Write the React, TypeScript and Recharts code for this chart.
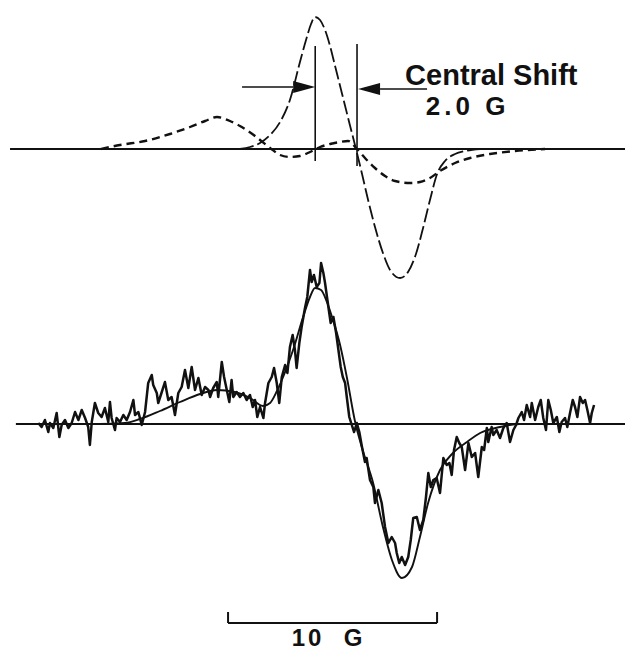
import { LineChart, Line, XAxis, YAxis, ReferenceLine, ReferenceDot } from "recharts";

type Pt = [number, number];

// field offset in G (0 = zero crossing of the centred signal), signal in arbitrary units

// top: simulated component with the shifted centre (short dashes)
const shiftedComponent: Pt[] = [
  [-12.25, 0], [-11.34, 4], [-10.14, 8], [-8.95, 15], [-7.99, 22], [-7.27, 28],
  [-6.7, 32], [-6.08, 28], [-5.6, 23], [-4.88, 13], [-4.16, 1], [-3.68, -6],
  [-3.21, -8], [-2.73, -7], [-2.25, -3], [-1.77, 2], [-1.29, 5], [-0.81, 7],
  [-0.43, 8], [0.0, 0], [0.38, -9], [0.86, -19], [1.34, -27], [1.82, -32],
  [2.54, -34], [3.01, -33], [3.49, -29], [3.97, -22], [4.69, -14], [5.41, -9],
  [6.36, -5], [7.56, -2], [9.0, 0],
];

// top: main component (long dashes)
const mainComponent: Pt[] = [
  [-5.6, 0], [-5.12, 2], [-4.64, 6], [-4.16, 14], [-3.68, 27], [-3.21, 49],
  [-2.73, 87], [-2.44, 109], [-2.2, 125], [-2.01, 132], [-1.77, 129], [-1.53, 119],
  [-1.29, 103], [-1.05, 83], [-0.81, 63], [-0.57, 43], [-0.33, 23], [-0.05, 0],
  [0.24, -25], [0.53, -51], [0.86, -78], [1.24, -104], [1.58, -121], [2.06, -129],
  [2.44, -123], [2.82, -105], [3.16, -79], [3.49, -51], [3.83, -25], [4.21, -12],
  [4.69, -5], [5.17, -2], [5.89, 0],
];

// bottom: recorded spectrum
const measured: Pt[] = [
  [-15.25, 1], [-15.09, -3], [-14.93, 4], [-14.77, -8], [-14.69, 1], [-14.53, -4],
  [-14.37, 11], [-14.24, -13], [-14.13, -1], [-13.97, 4], [-13.81, -4], [-13.65, 1],
  [-13.49, 12], [-13.33, 4], [-13.17, 14], [-13.01, 6], [-12.86, -3], [-12.78, -21],
  [-12.69, 2], [-12.54, 21], [-12.38, 11], [-12.22, 7], [-12.06, 16], [-11.9, 2],
  [-11.82, 22], [-11.74, 6], [-11.58, -6], [-11.5, 6], [-11.34, 2], [-11.18, 9],
  [-11.02, 4], [-10.86, 12], [-10.7, 24], [-10.62, 9], [-10.46, 12], [-10.3, -1],
  [-10.14, 12], [-9.99, 41], [-9.82, 49], [-9.75, 39], [-9.58, 31], [-9.51, 21],
  [-9.34, 32], [-9.19, 42], [-9.03, 24], [-8.87, 27], [-8.71, 9], [-8.55, 31],
  [-8.39, 37], [-8.23, 54], [-8.07, 36], [-7.91, 57], [-7.75, 34], [-7.59, 46],
  [-7.43, 29], [-7.27, 37], [-7.11, 34], [-7.03, 27], [-6.88, 36], [-6.71, 42],
  [-6.64, 27], [-6.47, 62], [-6.36, 47], [-6.23, 34], [-6.11, 22], [-6.0, 44],
  [-5.92, 27], [-5.76, 32], [-5.6, 27], [-5.44, 31], [-5.28, 24], [-5.12, 29],
  [-4.99, 17], [-4.88, 24], [-4.77, 7], [-4.64, 17], [-4.48, 6], [-4.4, 21],
  [-4.24, 41], [-4.08, 47], [-3.97, 56], [-3.84, 41], [-3.72, 21], [-3.6, 47],
  [-3.44, 59], [-3.33, 51], [-3.21, 77], [-3.08, 89], [-2.97, 74], [-2.89, 56],
  [-2.76, 81], [-2.65, 97], [-2.49, 116], [-2.38, 127], [-2.25, 154], [-2.17, 142],
  [-2.06, 149], [-1.93, 137], [-1.8, 141], [-1.72, 161], [-1.61, 151], [-1.53, 141],
  [-1.37, 117], [-1.26, 101], [-1.13, 107], [-1.0, 91], [-0.89, 74], [-0.78, 57],
  [-0.68, 47], [-0.57, 41], [-0.49, 27], [-0.37, 7], [-0.25, -1], [-0.14, -8],
  [-0.01, 1], [0.11, -8], [0.22, -21], [0.38, -38], [0.46, -34], [0.62, -56],
  [0.78, -63], [0.86, -79], [1.02, -66], [1.18, -79], [1.34, -103], [1.5, -119],
  [1.66, -113], [1.82, -119], [1.9, -129], [2.02, -139], [2.14, -133], [2.3, -141],
  [2.45, -133], [2.57, -116], [2.69, -94], [2.86, -93], [3.01, -106], [3.17, -96],
  [3.3, -73], [3.41, -49], [3.53, -63], [3.65, -56], [3.81, -54], [3.97, -69],
  [4.13, -34], [4.29, -41], [4.42, -39], [4.53, -51], [4.64, -26], [4.77, -13],
  [4.89, -19], [5.01, -23], [5.17, -46], [5.33, -19], [5.49, -33], [5.65, -29],
  [5.8, -53], [5.97, -23], [6.08, -26], [6.21, -4], [6.28, -18], [6.44, -3],
  [6.52, -11], [6.68, -6], [6.84, -14], [7.0, -4], [7.16, 1], [7.32, -18],
  [7.48, -6], [7.61, -1], [7.72, 6], [7.88, 12], [7.99, 4], [8.12, 19],
  [8.28, 7], [8.36, 21], [8.52, 4], [8.67, 17], [8.79, 24], [8.91, 6],
  [9.04, -6], [9.15, 24], [9.27, 14], [9.39, 1], [9.56, 7], [9.68, -8],
  [9.79, 2], [9.95, 6], [10.06, -3], [10.19, 11], [10.32, 24], [10.43, 17],
  [10.54, 7], [10.67, 27], [10.8, 21], [10.91, 24], [11.02, 14], [11.15, 1],
  [11.23, 11], [11.34, 19],
];

// bottom: fitted sum of the two components
const fitted: Pt[] = [
  [-15.17, 0], [-12.3, 0], [-11.1, 1], [-10.38, 5], [-9.43, 13], [-8.47, 22],
  [-7.51, 30], [-6.7, 34], [-5.84, 32], [-5.12, 26], [-4.5, 18], [-4.16, 21],
  [-3.83, 33], [-3.44, 52], [-3.06, 74], [-2.58, 107], [-2.25, 127], [-2.01, 136],
  [-1.72, 134], [-1.44, 122], [-1.15, 104], [-0.81, 79], [-0.48, 46], [-0.1, 3],
  [0.24, -24], [0.77, -59], [1.24, -103], [1.67, -136], [2.15, -154], [2.63, -143],
  [3.01, -113], [3.4, -79], [3.97, -46], [4.59, -29], [5.26, -18], [5.89, -9],
  [6.84, -3], [7.8, 0], [11.63, 0],
];

const FIELD_DOMAIN: [number, number] = [-17.08, 12.82];
const TOP_DOMAIN: [number, number] = [-504, 149];
const BOTTOM_DOMAIN: [number, number] = [-229, 424];

const SHIFT_LINES = [
  { x: -2.0, from: 103, to: -12 },
  { x: 0.0, from: 105, to: -17 },
];
const SCALE_START = -6.17;
const SCALE_LENGTH = 10;

const INK = "#111";
const FONT = "'Liberation Sans', Arial, sans-serif";

const rows = (pts: Pt[]) => pts.map(([x, y]) => ({ x, y }));

function Arrow(props: any) {
  const { x1, y1, x2, y2 } = props;
  const dir = x2 > x1 ? 1 : -1;
  const len = 22;
  const half = 6;
  const bx = x2 - dir * len;
  return (
    <g>
      <line x1={x1} y1={y1} x2={bx} y2={y2} stroke={INK} strokeWidth={1.6} />
      <polygon points={`${x2},${y2} ${bx},${y2 - half} ${bx},${y2 + half}`} fill={INK} />
    </g>
  );
}

const textShape =
  (text: string, anchor: "start" | "middle", size: number, spacing: number) =>
  (p: any) => (
    <text
      x={p.cx}
      y={p.cy}
      textAnchor={anchor}
      fontSize={size}
      fontFamily={FONT}
      fontWeight={700}
      letterSpacing={spacing}
      fill={INK}
      style={{ whiteSpace: "pre" }}
    >
      {text}
    </text>
  );

export default function App() {
  return (
    <div style={{ position: "absolute", left: 0, top: 0, width: 625, height: 653, background: "#fff" }}>
      <LineChart width={625} height={653} margin={{ top: 0, right: 0, bottom: 0, left: 0 }}>
        <XAxis dataKey="x" type="number" domain={FIELD_DOMAIN} allowDataOverflow hide />
        <YAxis yAxisId="top" type="number" domain={TOP_DOMAIN} allowDataOverflow hide />
        <YAxis yAxisId="bottom" type="number" domain={BOTTOM_DOMAIN} allowDataOverflow hide />

        {/* baselines */}
        <ReferenceLine
          yAxisId="top"
          segment={[{ x: -16.6, y: 0 }, { x: FIELD_DOMAIN[1], y: 0 }]}
          stroke={INK}
          strokeWidth={2}
          ifOverflow="visible"
        />
        <ReferenceLine
          yAxisId="bottom"
          segment={[{ x: -16.32, y: 0 }, { x: FIELD_DOMAIN[1], y: 0 }]}
          stroke={INK}
          strokeWidth={2}
          ifOverflow="visible"
        />

        {/* central shift markers */}
        {SHIFT_LINES.map((l) => (
          <ReferenceLine
            key={l.x}
            yAxisId="top"
            segment={[{ x: l.x, y: l.from }, { x: l.x, y: l.to }]}
            stroke={INK}
            strokeWidth={1.6}
            ifOverflow="visible"
          />
        ))}
        <ReferenceLine
          yAxisId="top"
          segment={[{ x: -5.5, y: 62 }, { x: SHIFT_LINES[0].x, y: 62 }]}
          shape={Arrow}
          ifOverflow="visible"
        />
        <ReferenceLine
          yAxisId="top"
          segment={[{ x: 3.35, y: 60 }, { x: SHIFT_LINES[1].x + 0.05, y: 60 }]}
          shape={Arrow}
          ifOverflow="visible"
        />
        <ReferenceDot yAxisId="top" x={2.3} y={64} r={0} ifOverflow="visible" shape={textShape("Central Shift", "start", 29, 0)} />
        <ReferenceDot yAxisId="top" x={5.29} y={34} r={0} ifOverflow="visible" shape={textShape("2.0 G", "middle", 26, 4)} />

        <Line
          yAxisId="top"
          data={rows(mainComponent)}
          dataKey="y"
          type="monotone"
          stroke={INK}
          strokeWidth={1.8}
          strokeDasharray="14 4"
          dot={false}
          activeDot={false}
          isAnimationActive={false}
        />
        <Line
          yAxisId="top"
          data={rows(shiftedComponent)}
          dataKey="y"
          type="monotone"
          stroke={INK}
          strokeWidth={2.4}
          strokeDasharray="8 5"
          dot={false}
          activeDot={false}
          isAnimationActive={false}
        />

        <Line
          yAxisId="bottom"
          data={rows(measured)}
          dataKey="y"
          type="linear"
          stroke={INK}
          strokeWidth={2.5}
          strokeLinejoin="round"
          dot={false}
          activeDot={false}
          isAnimationActive={false}
        />
        <Line
          yAxisId="bottom"
          data={rows(fitted)}
          dataKey="y"
          type="monotone"
          stroke={INK}
          strokeWidth={1.9}
          dot={false}
          activeDot={false}
          isAnimationActive={false}
        />

        {/* 10 G scale bar */}
        <ReferenceLine
          yAxisId="bottom"
          segment={[{ x: SCALE_START, y: -199 }, { x: SCALE_START + SCALE_LENGTH, y: -199 }]}
          stroke={INK}
          strokeWidth={2}
          ifOverflow="visible"
        />
        <ReferenceLine
          yAxisId="bottom"
          segment={[{ x: SCALE_START, y: -199 }, { x: SCALE_START, y: -188 }]}
          stroke={INK}
          strokeWidth={2}
          ifOverflow="visible"
        />
        <ReferenceLine
          yAxisId="bottom"
          segment={[{ x: SCALE_START + SCALE_LENGTH, y: -199 }, { x: SCALE_START + SCALE_LENGTH, y: -188 }]}
          stroke={INK}
          strokeWidth={2}
          ifOverflow="visible"
        />
        <ReferenceDot
          yAxisId="bottom"
          x={-1.36}
          y={-222}
          r={0}
          ifOverflow="visible"
          shape={textShape("10\u00a0\u00a0G", "middle", 24, 3)}
        />
      </LineChart>
    </div>
  );
}
